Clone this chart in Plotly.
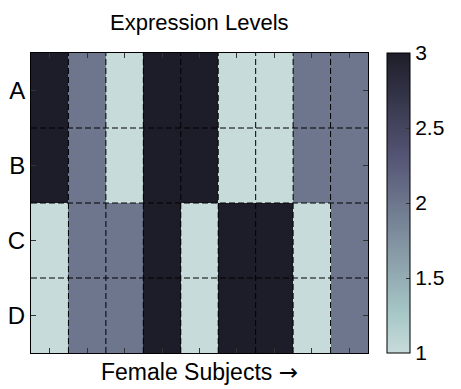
import numpy as np
import plotly.graph_objects as go

# ---- data ----
row_labels = ["A", "B", "C", "D"]
subjects = [1, 2, 3, 4, 5, 6, 7, 8, 9]
row_A = [3, 2, 1, 3, 3, 1, 1, 2, 2]
row_B = [3, 2, 1, 3, 3, 1, 1, 2, 2]
row_C = [1, 2, 2, 3, 1, 3, 3, 1, 2]
row_D = [1, 2, 2, 3, 1, 3, 3, 1, 2]
cbar_ticks = [1, 1.5, 2, 2.5, 3]
title_text = "Expression Levels"
xlabel_text = "Female Subjects <span style='font-family:DejaVu Sans'>\u2192</span>"

z = [row_A, row_B, row_C, row_D]
rows = list(range(1, len(row_labels) + 1))

# ---- bone colormap (MATLAB style), partial range, light at low values ----
def bone(t):
    hr = np.clip(t / 0.375, 0, 1)
    hg = np.clip((t - 0.375) / 0.375, 0, 1)
    hb = np.clip((t - 0.75) / 0.25, 0, 1)
    r = (7 * t + hb) / 8
    g = (7 * t + hg) / 8
    b = (7 * t + hr) / 8
    return r, g, b

t_lo, t_hi = 0.134, 0.843
n = 64
colorscale = []
for i in range(n):
    f = i / (n - 1)
    t = t_hi - f * (t_hi - t_lo)
    r, g, b = bone(t)
    colorscale.append([f, f"rgb({int(r*255)},{int(g*255)},{int(b*255)})"])

font_family = "Liberation Sans, Arial, sans-serif"

fig = go.Figure()
fig.add_trace(go.Heatmap(
    x=subjects, y=rows, z=z,
    colorscale=colorscale, zmin=1, zmax=3,
    showscale=True,
    colorbar=dict(
        x=1.056, xanchor="left", xpad=0,
        y=0.5, yanchor="middle", len=1.0, lenmode="fraction", ypad=0,
        thickness=23, thicknessmode="pixels",
        outlinecolor="black", outlinewidth=1,
        tickvals=cbar_ticks, ticktext=[f"{v:g}" for v in cbar_ticks],
        ticks="inside", ticklen=4, tickcolor="#333",
        tickfont=dict(family=font_family, size=21, color="black"),
    ),
    hoverinfo="skip",
))

# dashed grid lines at cell boundaries
shapes = []
for k in range(1, len(subjects)):
    xb = (subjects[k - 1] + subjects[k]) / 2
    shapes.append(dict(type="line", xref="x", yref="paper", x0=xb, x1=xb, y0=0, y1=1,
                       line=dict(color="black", width=1, dash="6px,3px")))
for k in range(1, len(rows)):
    yb = (rows[k - 1] + rows[k]) / 2
    shapes.append(dict(type="line", xref="paper", yref="y", x0=0, x1=1, y0=yb, y1=yb,
                       line=dict(color="black", width=1, dash="6px,3px")))

fig.update_layout(
    width=461, height=389,
    margin=dict(l=31, r=93, t=53, b=36, autoexpand=False),
    paper_bgcolor="white", plot_bgcolor="white",
    font=dict(family=font_family, color="black"),
    shapes=shapes,
    showlegend=False,
    annotations=[
        dict(text=title_text, xref="paper", yref="paper", x=0.5, y=1, yanchor="bottom",
             xanchor="center", yshift=16, showarrow=False,
             font=dict(family=font_family, size=22, color="black")),
        dict(text=xlabel_text, xref="paper", yref="paper", x=0.5, y=0, yanchor="top",
             xanchor="center", yshift=-4, showarrow=False,
             font=dict(family=font_family, size=23, color="black")),
    ],
)
fig.update_xaxes(
    range=[subjects[0] - 0.5, subjects[-1] + 0.5],
    tickvals=subjects, showticklabels=False,
    ticks="inside", ticklen=5, tickcolor="#333",
    showline=True, linecolor="black", linewidth=1, mirror="ticks",
    showgrid=False, zeroline=False, automargin=False,
)
fig.update_yaxes(
    range=[rows[-1] + 0.5, rows[0] - 0.5],
    tickvals=rows, ticktext=row_labels,
    ticks="inside", ticklen=5, tickcolor="#333",
    tickfont=dict(family=font_family, size=24, color="black"),
    showline=True, linecolor="black", linewidth=1, mirror="ticks",
    showgrid=False, zeroline=False, automargin=False,
)

fig.write_html("out.html", config={"displayModeBar": False},
               post_script="document.body.style.margin='0';")
